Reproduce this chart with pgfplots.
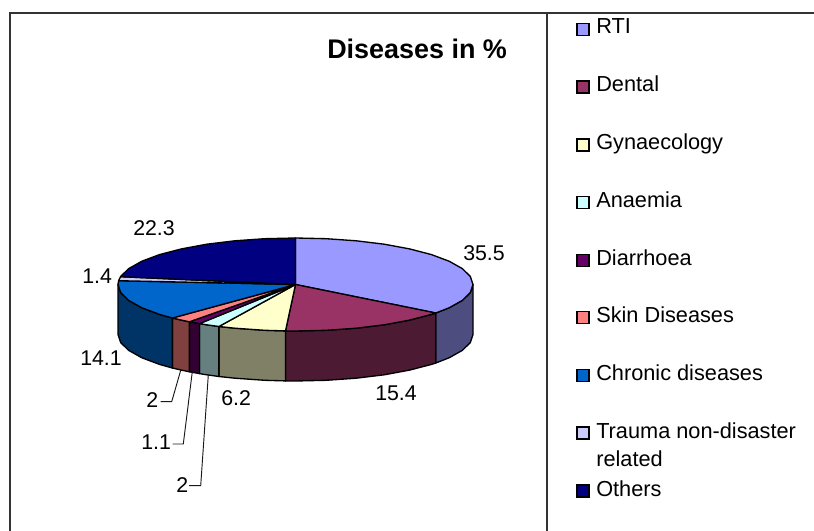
\documentclass[border=0pt]{standalone}
\usepackage{pgfplots}
\pgfplotsset{compat=1.18}
\usepackage{fontspec}
\setmainfont{Liberation Sans}
\definecolor{cRTI}{HTML}{9999FF}\definecolor{sRTI}{HTML}{4D4D80}
\definecolor{cDen}{HTML}{993366}\definecolor{sDen}{HTML}{4D1A33}
\definecolor{cGyn}{HTML}{FFFFCC}\definecolor{sGyn}{HTML}{808066}
\definecolor{cAna}{HTML}{CCFFFF}\definecolor{sAna}{HTML}{668080}
\definecolor{cDia}{HTML}{660066}\definecolor{sDia}{HTML}{330033}
\definecolor{cSki}{HTML}{FF8080}\definecolor{sSki}{HTML}{804040}
\definecolor{cChr}{HTML}{0066CC}\definecolor{sChr}{HTML}{003366}
\definecolor{cTra}{HTML}{CCCCFF}
\definecolor{cOth}{HTML}{000080}
\definecolor{frame}{HTML}{333333}
\pgfplotsset{
  slice/.style={draw=black,line width=1pt,line join=round,forget plot},
  leader/.style={draw=black!90,line width=0.7pt,forget plot},
  edge/.style={draw=frame,line width=1.2pt,forget plot},
  key/.style={only marks,mark=square*,mark size=4.5pt,mark options={draw=black,fill=#1,line width=0.9pt},forget plot},
}
\tikzset{
  lab/.style={anchor=base west,inner sep=0pt,font=\fontsize{16}{18}\selectfont,text=black},
  leg/.style={anchor=base west,inner sep=0pt,font=\fontsize{16.3}{18}\selectfont,text=black},
}
\begin{document}
\begin{tikzpicture}
\path[use as bounding box] (0,0) rectangle (610.5pt,398.25pt);
\begin{axis}[
  at={(0,0)},anchor=south west,
  scale only axis,width=610.5pt,height=398.25pt,
  xmin=0,xmax=814,ymin=0,ymax=531,y dir=reverse,
  hide axis,clip=false,
]
% Side walls of the pie, 50 px deep
\addplot[slice,fill=sRTI] coordinates {(473.0,284.5)(470.3,292.6)(462.3,300.4)(449.2,307.75)(435.8,313.0)(435.8,363.0)(449.2,357.75)(462.3,350.4)(470.3,342.6)(473.0,334.5)} -- cycle;
\addplot[slice,fill=sDen] coordinates {(435.8,313.0)(431.5,314.4)(409.6,320.1)(384.25,324.8)(356.2,328.2)(326.3,330.3)(295.5,331.0)(285.5,330.9)(285.5,380.9)(295.5,381.0)(326.3,380.3)(356.2,378.2)(384.25,374.8)(409.6,370.1)(431.5,364.4)(435.8,363.0)} -- cycle;
\addplot[slice,fill=sGyn] coordinates {(285.5,330.9)(264.7,330.3)(234.8,328.2)(218.9,326.5)(218.9,376.5)(234.8,378.2)(264.7,380.3)(285.5,380.9)} -- cycle;
\addplot[slice,fill=sAna] coordinates {(218.9,326.5)(206.75,324.8)(199.5,323.6)(199.5,373.6)(206.75,374.8)(218.9,376.5)} -- cycle;
\addplot[slice,fill=sDia] coordinates {(199.5,323.6)(189.4,321.8)(189.4,371.8)(199.5,373.6)} -- cycle;
\addplot[slice,fill=sSki] coordinates {(189.4,321.8)(181.4,320.1)(172.4,318.0)(172.4,368.0)(181.4,370.1)(189.4,371.8)} -- cycle;
\addplot[slice,fill=sChr] coordinates {(172.4,318.0)(159.5,314.4)(141.8,307.75)(128.7,300.4)(120.7,292.6)(118.0,284.5)(118.0,334.5)(120.7,342.6)(128.7,350.4)(141.8,357.75)(159.5,364.4)(172.4,368.0)} -- cycle;
% Top faces: RTI 35.5, Dental 15.4, Gynaecology 6.2, Anaemia 2, Diarrhoea 1.1,
% Skin 2, Chronic 14.1, Trauma 1.4, Others 22.3
\addplot[slice,fill=cRTI] coordinates {(295.5,284.5)(295.5,238.0)(326.3,238.7)(356.2,240.8)(384.25,244.2)(409.6,248.9)(431.5,254.6)(449.2,261.25)(462.3,268.6)(470.3,276.4)(473.0,284.5)(470.3,292.6)(462.3,300.4)(449.2,307.75)(435.8,313.0)} -- cycle;
\addplot[slice,fill=cDen] coordinates {(295.5,284.5)(435.8,313.0)(431.5,314.4)(409.6,320.1)(384.25,324.8)(356.2,328.2)(326.3,330.3)(295.5,331.0)(285.5,330.9)} -- cycle;
\addplot[slice,fill=cGyn] coordinates {(295.5,284.5)(285.5,330.9)(264.7,330.3)(234.8,328.2)(218.9,326.5)} -- cycle;
\addplot[slice,fill=cAna] coordinates {(295.5,284.5)(218.9,326.5)(206.75,324.8)(199.5,323.6)} -- cycle;
\addplot[slice,fill=cDia] coordinates {(295.5,284.5)(199.5,323.6)(189.4,321.8)} -- cycle;
\addplot[slice,fill=cSki] coordinates {(295.5,284.5)(189.4,321.8)(181.4,320.1)(172.4,318.0)} -- cycle;
\addplot[slice,fill=cChr] coordinates {(295.5,284.5)(172.4,318.0)(159.5,314.4)(141.8,307.75)(128.7,300.4)(120.7,292.6)(118.0,284.5)(118.6,280.7)} -- cycle;
\addplot[slice,fill=cTra] coordinates {(295.5,284.5)(118.6,280.7)(120.6,276.7)} -- cycle;
\addplot[slice,fill=cOth] coordinates {(295.5,284.5)(120.6,276.7)(120.7,276.4)(128.7,268.6)(141.8,261.25)(159.5,254.6)(181.4,248.9)(206.75,244.2)(234.8,240.8)(264.7,238.7)(295.5,238.0)} -- cycle;
% Leader lines
\addplot[leader] coordinates {(181,369.3)(171.7,401.7)(160.7,401.7)};
\addplot[leader] coordinates {(192.3,371.7)(183.3,444)(172.7,444)};
\addplot[leader] coordinates {(208.3,375)(200.7,485.7)(189,485.7)};
% Frame
\addplot[edge] coordinates {(10,531)(10,13)(814,13)};
\addplot[edge] coordinates {(547,13)(547,531)};
% Legend keys
\addplot[key=cRTI] coordinates {(583,29.2)};
\addplot[key=cDen] coordinates {(583,87)};
\addplot[key=cGyn] coordinates {(583,145)};
\addplot[key=cAna] coordinates {(583,202.5)};
\addplot[key=cDia] coordinates {(583,260.3)};
\addplot[key=cSki] coordinates {(583,317.5)};
\addplot[key=cChr] coordinates {(583,375.3)};
\addplot[key=cTra] coordinates {(583,433)};
\addplot[key=cOth] coordinates {(583,491)};
% Legend text
\node[leg] at (axis cs:596,33.5) {RTI};
\node[leg] at (axis cs:596,91.7) {Dental};
\node[leg] at (axis cs:596,150) {Gynaecology};
\node[leg] at (axis cs:596,208) {Anaemia};
\node[leg] at (axis cs:596,265) {Diarrhoea};
\node[leg] at (axis cs:596,322.7) {Skin Diseases};
\node[leg] at (axis cs:596,380.7) {Chronic diseases};
\node[leg] at (axis cs:596,438.3) {Trauma non-disaster};
\node[leg] at (axis cs:596,466) {related};
\node[leg] at (axis cs:596,496.7) {Others};
% Data labels
\node[lab] at (axis cs:463,260) {35.5};
\node[lab] at (axis cs:375,400) {15.4};
\node[lab] at (axis cs:221,405) {6.2};
\node[lab] at (axis cs:146,407) {2};
\node[lab] at (axis cs:141,449.3) {1.1};
\node[lab] at (axis cs:176,492) {2};
\node[lab] at (axis cs:80,365.7) {14.1};
\node[lab] at (axis cs:82,283.3) {1.4};
\node[lab] at (axis cs:133,235) {22.3};
% Title
\node[anchor=base west,inner sep=0pt,font=\fontsize{20.2}{24}\selectfont\bfseries,text=black] at (axis cs:327,59) {Diseases in \%};
\end{axis}
\end{tikzpicture}
\end{document}
